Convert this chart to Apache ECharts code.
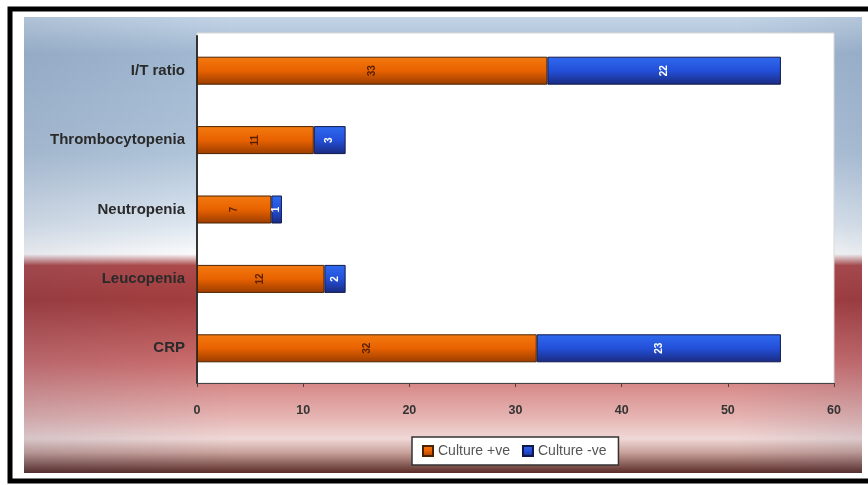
<!DOCTYPE html>
<html>
<head>
<meta charset="utf-8">
<script src="https://cdn.jsdelivr.net/npm/echarts@6/dist/echarts.min.js"></script>
<style>
  html, body { margin: 0; padding: 0; background: #fff; }
  #chart { width: 868px; height: 485px; }
</style>
</head>
<body>
<div id="chart"></div>
<script>
const categories = ["CRP", "Leucopenia", "Neutropenia", "Thrombocytopenia", "I/T ratio"];
const culturePositive = [32, 12, 7, 11, 33];
const cultureNegative = [23, 2, 1, 3, 22];
const xTicks = [0, 10, 20, 30, 40, 50, 60];

const chart = echarts.init(document.getElementById("chart"), null, { renderer: "canvas" });

const lg = (stops) => new echarts.graphic.LinearGradient(0, 0, 0, 1, stops);

chart.setOption({
  animation: false,
  textStyle: { fontFamily: "Liberation Sans, Arial, sans-serif" },
  graphic: [
    {
      type: "rect", z: -100, silent: true,
      shape: { x: 10, y: 9, width: 870, height: 472 },
      style: { fill: "#fff", stroke: "#000", lineWidth: 5 }
    },
    {
      type: "rect", z: -99, silent: true,
      shape: { x: 24, y: 17, width: 838, height: 456 },
      style: {
        fill: lg([
          { offset: 0, color: "#c3d5e6" },
          { offset: 0.08, color: "#a3bad3" },
          { offset: 0.3, color: "#b3c7dc" },
          { offset: 0.46, color: "#e3ecf4" },
          { offset: 0.52, color: "#ffffff" },
          { offset: 0.545, color: "#b04a4a" },
          { offset: 0.62, color: "#a53c3c" },
          { offset: 0.76, color: "#cd6e6e" },
          { offset: 0.88, color: "#e6b6b4" },
          { offset: 0.925, color: "#efd8d6" },
          { offset: 0.955, color: "#c9a29c" },
          { offset: 1, color: "#5a2c27" }
        ])
      }
    },
    {
      type: "rect", z: -98, silent: true,
      shape: { x: 24, y: 17, width: 838, height: 456 },
      style: {
        fill: new echarts.graphic.LinearGradient(0, 0, 1, 0, [
          { offset: 0, color: "rgba(40,60,100,0.12)" },
          { offset: 0.25, color: "rgba(40,60,100,0)" },
          { offset: 0.85, color: "rgba(40,60,100,0)" },
          { offset: 1, color: "rgba(40,60,100,0.1)" }
        ])
      }
    },
    {
      // white plot panel, a little taller than the grid
      type: "rect", z: -97, silent: true,
      shape: { x: 197, y: 33, width: 637, height: 350 },
      style: { fill: "#fff", stroke: "#d8d8d8", lineWidth: 1 }
    }
  ],
  grid: {
    left: 197, right: 34, top: 36, bottom: 102
  },
  legend: {
    left: 412, top: 437,
    itemWidth: 10, itemHeight: 10, itemGap: 12,
    icon: "rect",
    backgroundColor: "#ffffff", borderColor: "#333", borderWidth: 1.5,
    padding: [7, 12, 7, 10],
    textStyle: { color: "#555", fontSize: 14 },
    data: ["Culture +ve", "Culture -ve"]
  },
  xAxis: {
    type: "value", min: xTicks[0], max: xTicks[xTicks.length - 1], interval: 10,
    axisLine: { show: true, lineStyle: { color: "#444" } },
    axisTick: { show: true, length: 4, lineStyle: { color: "#444" } },
    splitLine: { show: false },
    axisLabel: { color: "#333", fontWeight: "bold", fontSize: 12.5, margin: 21 }
  },
  yAxis: {
    type: "category", data: categories,
    axisLine: { show: true, lineStyle: { color: "#333", width: 2 } },
    axisTick: { show: false },
    axisLabel: { color: "#2a2a2a", fontWeight: "bold", fontSize: 15, margin: 12 }
  },
  series: [
    {
      name: "Culture +ve", type: "bar", stack: "total", barWidth: 28,
      data: culturePositive,
      itemStyle: {
        color: lg([
          { offset: 0, color: "#f47a10" },
          { offset: 0.5, color: "#e86200" },
          { offset: 1, color: "#9a3c00" }
        ]),
        borderColor: "#4a2200", borderWidth: 1
      },
      label: {
        show: true, position: "inside", rotate: 90,
        color: "#5a2000", fontWeight: "bold", fontSize: 10
      }
    },
    {
      name: "Culture -ve", type: "bar", stack: "total", barWidth: 28,
      data: cultureNegative,
      itemStyle: {
        color: lg([
          { offset: 0, color: "#2f6af0" },
          { offset: 0.5, color: "#2350d8" },
          { offset: 1, color: "#1a2a80" }
        ]),
        borderColor: "#10184a", borderWidth: 1
      },
      label: {
        show: true, position: "inside", rotate: 90,
        color: "#ffffff", fontWeight: "bold", fontSize: 10
      }
    }
  ]
});
</script>
</body>
</html>
